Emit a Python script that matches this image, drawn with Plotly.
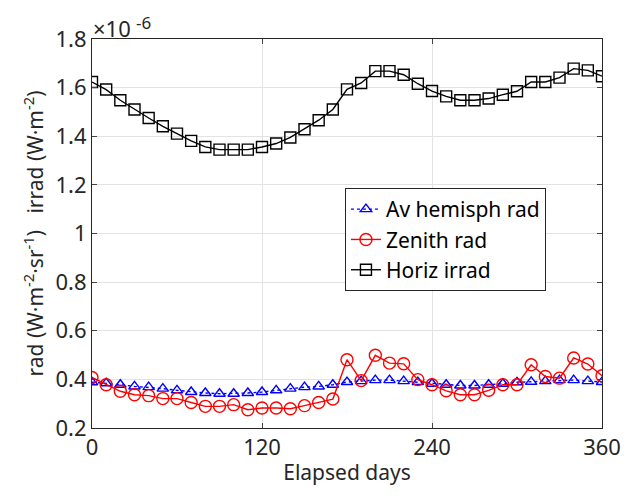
import plotly.graph_objects as go

days = list(range(0, 361, 10))

av_hemisph_rad = [0.388, 0.384, 0.378, 0.371, 0.368, 0.362, 0.355, 0.348, 0.344, 0.341,
                  0.341, 0.344, 0.348, 0.355, 0.362, 0.368, 0.371, 0.378, 0.389, 0.393,
                  0.397, 0.397, 0.393, 0.389, 0.382, 0.378, 0.375, 0.375, 0.378, 0.382,
                  0.388, 0.390, 0.393, 0.397, 0.397, 0.393, 0.389]

zenith_rad = [0.408, 0.378, 0.351, 0.337, 0.333, 0.321, 0.321, 0.305, 0.289, 0.289,
              0.296, 0.275, 0.282, 0.282, 0.279, 0.292, 0.305, 0.319, 0.481, 0.395,
              0.499, 0.467, 0.464, 0.399, 0.378, 0.353, 0.337, 0.337, 0.355, 0.378,
              0.378, 0.460, 0.412, 0.405, 0.488, 0.463, 0.415]

horiz_irrad = [1.623, 1.592, 1.548, 1.510, 1.475, 1.441, 1.411, 1.381, 1.356, 1.345,
               1.345, 1.345, 1.356, 1.370, 1.395, 1.429, 1.466, 1.510, 1.593, 1.619,
               1.668, 1.668, 1.653, 1.616, 1.586, 1.564, 1.548, 1.548, 1.555, 1.571,
               1.585, 1.623, 1.623, 1.641, 1.678, 1.671, 1.647]

y_ticks = [0.2, 0.4, 0.6, 0.8, 1.0, 1.2, 1.4, 1.6, 1.8]
y_ticktext = ["0.2", "0.4", "0.6", "0.8", "1", "1.2", "1.4", "1.6", "1.8"]
x_ticks = [0, 120, 240, 360]

FONT = "Noto Sans"
AX = "#262626"

fig = go.Figure()
fig.add_trace(go.Scatter(
    x=days, y=av_hemisph_rad, name="Av hemisph rad", mode="lines+markers",
    line=dict(color="#0000ff", width=1.4, dash="dot"),
    marker=dict(symbol="triangle-up-open", size=10, color="#0000ff", line=dict(width=1.4)),
))
fig.add_trace(go.Scatter(
    x=days, y=zenith_rad, name="Zenith rad", mode="lines+markers",
    line=dict(color="#ff0000", width=1.4),
    marker=dict(symbol="circle-open", size=12, color="#ff0000", line=dict(width=1.4)),
))
fig.add_trace(go.Scatter(
    x=days, y=horiz_irrad, name="Horiz irrad", mode="lines+markers",
    line=dict(color="#000000", width=1.4),
    marker=dict(symbol="square-open", size=11, color="#000000", line=dict(width=1.4)),
))

fig.update_layout(
    width=622, height=480,
    margin=dict(l=84, r=28, t=31, b=60, autoexpand=False),
    paper_bgcolor="white", plot_bgcolor="white",
    font=dict(family=FONT, size=20, color=AX),
    legend=dict(
        x=0.496, y=0.617, xanchor="left", yanchor="top",
        bgcolor="white", bordercolor=AX, borderwidth=1,
        font=dict(size=21, color="#000000"),
        itemwidth=30,
    ),
    xaxis=dict(
        range=[0, 360], tickvals=x_ticks, ticks="inside", ticklen=5,
        showline=True, linecolor=AX, linewidth=1, mirror="ticks",
        showgrid=True, gridcolor="#e3e3e3", gridwidth=1, zeroline=False,
        tickfont=dict(size=22, color=AX),
        title=dict(text="Elapsed days", font=dict(size=21, color=AX), standoff=4),
    ),
    yaxis=dict(
        range=[0.2, 1.8], tickvals=y_ticks, ticktext=y_ticktext, ticks="inside", ticklen=5,
        showline=True, linecolor=AX, linewidth=1, mirror="ticks",
        showgrid=True, gridcolor="#e3e3e3", gridwidth=1, zeroline=False,
        tickfont=dict(size=22, color=AX),
        title=dict(text="rad (W·m<sup>-2</sup>·sr<sup>-1</sup>)   irrad (W·m<sup>-2</sup>)",
                   font=dict(size=21, color=AX), standoff=6),
    ),
    annotations=[
        dict(text="×10", x=0, y=1.0, xref="paper", yref="paper",
             xanchor="left", yanchor="bottom", showarrow=False, borderpad=0,
             font=dict(size=22, color=AX), xshift=0, yshift=-5),
        dict(text="-6", x=0, y=1.0, xref="paper", yref="paper",
             xanchor="left", yanchor="bottom", showarrow=False, borderpad=0,
             font=dict(size=17, color=AX), xshift=43, yshift=4),
    ],
)

fig.write_html("out.html")
